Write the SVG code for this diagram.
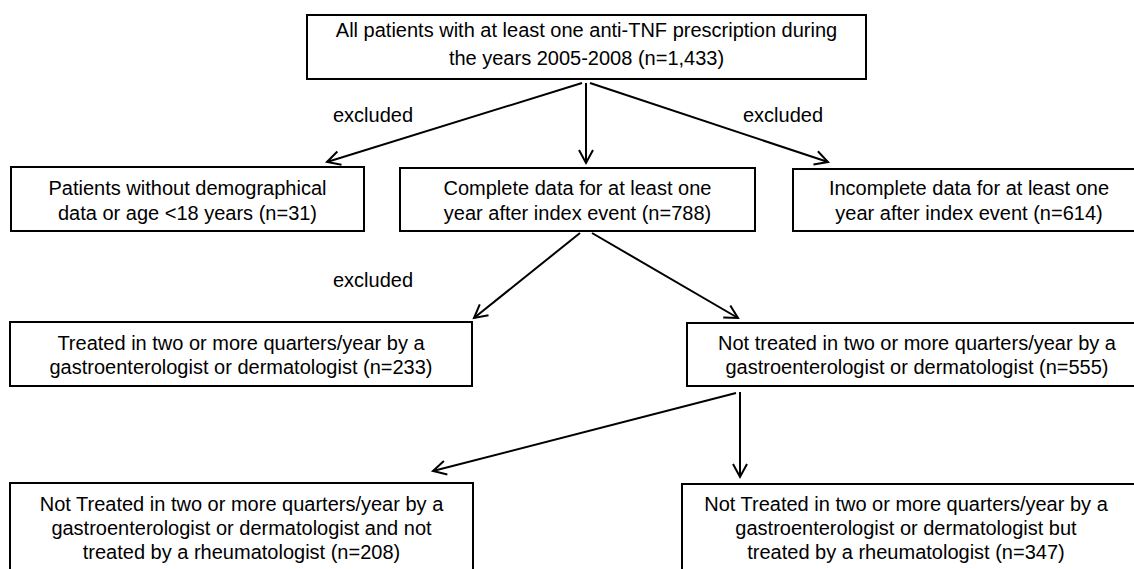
<svg xmlns="http://www.w3.org/2000/svg" width="1134" height="569" viewBox="0 0 1134 569">
<style>
.box{fill:#fff;stroke:#000;stroke-width:2}
.t{font-family:"Liberation Sans",Arial,sans-serif;font-size:20px;fill:#000;text-anchor:middle}
.lbl{font-family:"Liberation Sans",Arial,sans-serif;font-size:20px;fill:#000}
.c{stroke:#000;stroke-width:2;fill:none;marker-end:url(#ah)}
</style>
<defs>
<marker id="ah" markerUnits="userSpaceOnUse" markerWidth="20" markerHeight="20" refX="0" refY="0" viewBox="-16 -10 20 20" orient="auto" overflow="visible">
<path d="M -13 -7 L 0 0 L -13 7" fill="none" stroke="#000" stroke-width="2"/>
</marker>
</defs>
<rect width="1134" height="569" fill="#fff"/>
<g id="connectors">
<line class="c" x1="582" y1="83" x2="327" y2="162"/>
<line class="c" x1="586" y1="83" x2="586" y2="163"/>
<line class="c" x1="590" y1="83" x2="828" y2="162"/>
<line class="c" x1="580" y1="233" x2="474" y2="318"/>
<line class="c" x1="592" y1="233" x2="738" y2="318"/>
<line class="c" x1="736" y1="393" x2="433" y2="471"/>
<line class="c" x1="740" y1="392" x2="740" y2="477"/>
<text class="lbl" x="333" y="122">excluded</text>
<text class="lbl" x="743" y="122">excluded</text>
<text class="lbl" x="333" y="287">excluded</text>
</g>
<g id="n_all">
<rect class="box" x="307" y="15" width="559" height="64"/>
<text class="t" x="586.5" y="37">All patients with at least one anti-TNF prescription during</text>
<text class="t" x="586.5" y="65">the years 2005-2008 (n=1,433)</text>
</g>
<g id="n_nodemo">
<rect class="box" x="11" y="167" width="353" height="64"/>
<text class="t" x="187.5" y="195">Patients without demographical</text>
<text class="t" x="187.5" y="220">data or age &lt;18 years (n=31)</text>
</g>
<g id="n_complete">
<rect class="box" x="400" y="168" width="355" height="63"/>
<text class="t" x="577.5" y="195">Complete data for at least one</text>
<text class="t" x="577.5" y="220">year after index event (n=788)</text>
</g>
<g id="n_incomplete">
<rect class="box" x="793" y="169" width="352" height="62"/>
<text class="t" x="969" y="195">Incomplete data for at least one</text>
<text class="t" x="969" y="220">year after index event (n=614)</text>
</g>
<g id="n_treated">
<rect class="box" x="10" y="322" width="462" height="64"/>
<text class="t" x="241" y="350">Treated in two or more quarters/year by a</text>
<text class="t" x="241" y="374">gastroenterologist or dermatologist (n=233)</text>
</g>
<g id="n_nottreated">
<rect class="box" x="687" y="323" width="460" height="63"/>
<text class="t" x="917" y="350">Not treated in two or more quarters/year by a</text>
<text class="t" x="917" y="374">gastroenterologist or dermatologist (n=555)</text>
</g>
<g id="n_norheum">
<rect class="box" x="10" y="483" width="463" height="95"/>
<text class="t" x="241.5" y="511">Not Treated in two or more quarters/year by a</text>
<text class="t" x="241.5" y="535">gastroenterologist or dermatologist and not</text>
<text class="t" x="241.5" y="559">treated by a rheumatologist (n=208)</text>
</g>
<g id="n_rheum">
<rect class="box" x="682" y="484" width="460" height="95"/>
<text class="t" x="906" y="511">Not Treated in two or more quarters/year by a</text>
<text class="t" x="906" y="535">gastroenterologist or dermatologist but</text>
<text class="t" x="906" y="559">treated by a rheumatologist (n=347)</text>
</g>
</svg>
